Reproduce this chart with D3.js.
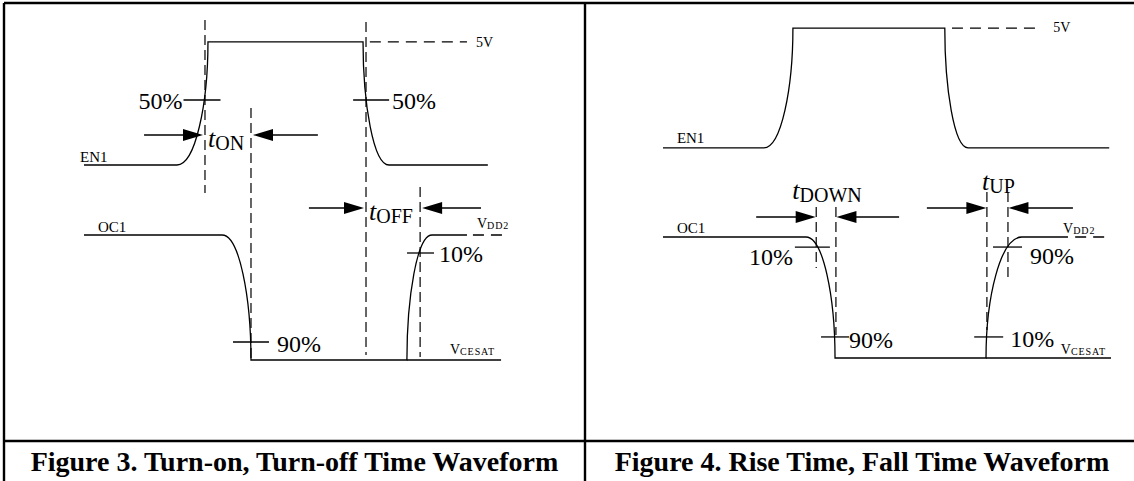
<!DOCTYPE html>
<html>
<head>
<meta charset="utf-8">
<script src="https://cdn.jsdelivr.net/npm/d3@7"></script>
<style>
  html, body { margin: 0; padding: 0; background: #fff; }
  svg { display: block; }
  svg text { font-family: "Liberation Serif", "Times New Roman", serif; }
</style>
</head>
<body>
<svg id="chart" width="1134" height="481"></svg>
<script>
// waveform vertices: [time, level (0 = low, 1 = high), edge shape arriving at this vertex]
const fig3EN1 = [[0, 0], [21.8, 0], [29.1, 1, "late"], [65.5, 1], [71.6, 0, "early"], [94.8, 0]];
const fig3OC1 = [[0, 1], [32.4, 1], [39.2, 0, "late"], [75.8, 0], [81.7, 1, "early"], [89.9, 1]];
const fig4EN1 = [[0, 0], [22.5, 0], [29.0, 1, "late"], [62.9, 1], [68.1, 0, "early"], [99.6, 0]];
const fig4OC1 = [[0, 1], [31.9, 1], [38.4, 0, "late"], [72.1, 0], [80.1, 1, "early"], [90.4, 1]];

// lane levels (low, high) in panel units
const fig3En1Levels = [1.56, 2.545];
const fig3Oc1Levels = [0, 1];
const fig4En1Levels = [1.736, 2.727];
const fig4Oc1Levels = [0, 1];

// reference lines: [lane, level, from, to, dashed]
const fig3Refs = [["en1", 1, 67.1, 89.9, true], ["oc1", 1, 91.3, 99.1, true], ["oc1", 0, 75.8, 97.9, false]];
const fig4Refs = [["en1", 1, 64.5, 84.4, true], ["oc1", 1, 92.0, 98.9, true], ["oc1", 0, 72.1, 100, false]];

// dashed time markers: [time, top, bottom]
const fig3Markers = [[28.4, 2.72, 1.336], [39.2, 2.016, 0], [66.2, 2.704, 0.04], [78.9, 1.384, 0.024]];
const fig4Markers = [[34.2, 1.248, 0.744], [38.6, 1.248, 0.19], [72.3, 1.372, 0.231], [77.0, 1.372, 0.669]];

// timing intervals: [subscript, from, to, arrow level, left arrow start, right arrow end]
const fig3Intervals = [["ON", 28.4, 39.2, 1.8, 14.1, 54.9], ["OFF", 66.2, 78.9, 1.216, 52.8, 93.2]];
const fig4Intervals = [["DOWN", 34.2, 38.6, 1.165, 20.8, 52.7], ["UP", 72.3, 77.0, 1.240, 58.9, 91.5]];

// threshold ticks: [label, lane, fraction of swing, time]
const fig3Thresholds = [["50%", "en1", 0.528, 27.7], ["50%", "en1", 0.528, 67.4], ["90%", "oc1", 0.144, 39.2], ["10%", "oc1", 0.856, 79.0]];
const fig4Thresholds = [["10%", "oc1", 0.917, 33.35], ["90%", "oc1", 0.174, 38.4], ["90%", "oc1", 0.917, 76.9], ["10%", "oc1", 0.174, 72.7]];

const signalNames = ["EN1", "OC1"];
const refNames = [["5V", ""], ["V", "DD2"], ["V", "CESAT"]];
const captions = ["Figure 3. Turn-on, Turn-off Time Waveform", "Figure 4. Rise Time, Fall Time Waveform"];

// ---- layout
const panels = [
  {
    x: d3.scaleLinear().domain([0, 100]).range([84, 510]),
    y: d3.scaleLinear().domain([0, 1]).range([360, 235]),
    en1: fig3EN1, oc1: fig3OC1, levels: { en1: fig3En1Levels, oc1: fig3Oc1Levels },
    refs: fig3Refs, markers: fig3Markers, intervals: fig3Intervals, thresholds: fig3Thresholds,
    tickLayout: [{ len: 37, side: "left", gap: 1, dy: 9 }, { len: 36, side: "right", gap: 3, dy: 9 },
                 { len: 36, side: "right", gap: 8, dy: 10 }, { len: 27, side: "right", gap: 5, dy: 9 }],
    namePos: [[-0.94, 1.584], [3.29, 1.024]],
    refPos: [[92.0, 2.504], [92.25, 1.06], [85.9, 0.048]],
    labelMode: "inline", arrowGap: 2,
    caption: captions[0], captionX: 294.5
  },
  {
    x: d3.scaleLinear().domain([0, 100]).range([663, 1111]),
    y: d3.scaleLinear().domain([0, 1]).range([358, 237]),
    en1: fig4EN1, oc1: fig4OC1, levels: { en1: fig4En1Levels, oc1: fig4Oc1Levels },
    refs: fig4Refs, markers: fig4Markers, intervals: fig4Intervals, thresholds: fig4Thresholds,
    tickLayout: [{ len: 35, side: "left", gap: 2, dy: 18 }, { len: 28, side: "right", gap: 0, dy: 11 },
                 { len: 29, side: "right", gap: 8, dy: 17 }, { len: 29, side: "right", gap: 7, dy: 10 }],
    namePos: [[3.1, 1.777], [3.1, 1.03]],
    refPos: [[87.1, 2.694], [89.3, 1.035], [88.8, 0.033]],
    labelMode: "above", arrowGap: 0.5,
    caption: captions[1], captionX: 862
  }
];

const svg = d3.select("#chart");
const ink = "#000";

// frame
const frame = svg.append("g").attr("stroke", ink).attr("stroke-width", 2.4);
frame.append("line").attr("x1", 4).attr("x2", 1134).attr("y1", 3).attr("y2", 3);
frame.append("line").attr("x1", 4).attr("x2", 4).attr("y1", 3).attr("y2", 481);
frame.append("line").attr("x1", 585).attr("x2", 585).attr("y1", 3).attr("y2", 481);
frame.append("line").attr("x1", 4).attr("x2", 1134).attr("y1", 441).attr("y2", 441);

function wavePath(pts, lv, x, y) {
  const p = d3.path();
  pts.forEach((d, i) => {
    const px = x(d[0]), py = y(lv[d[1]]);
    if (i === 0) { p.moveTo(px, py); return; }
    const prev = pts[i - 1];
    const x0 = x(prev[0]), y0 = y(lv[prev[1]]);
    if (d[2] === "late") p.bezierCurveTo(x0 + 0.6 * (px - x0), y0, px, y0 + 0.5 * (py - y0), px, py);
    else if (d[2] === "early") p.bezierCurveTo(x0, y0 + 0.5 * (py - y0), px - 0.6 * (px - x0), py, px, py);
    else p.lineTo(px, py);
  });
  return p.toString();
}

panels.forEach(P => {
  const g = svg.append("g");
  const { x, y } = P;
  const lvl = (lane, f) => P.levels[lane][0] + f * (P.levels[lane][1] - P.levels[lane][0]);

  // waveforms
  ["en1", "oc1"].forEach(lane => {
    g.append("path")
      .attr("d", wavePath(P[lane], P.levels[lane], x, y))
      .attr("fill", "none").attr("stroke", ink).attr("stroke-width", 1.3);
  });

  // reference levels
  g.selectAll(".ref").data(P.refs).join("line")
    .attr("x1", d => x(d[2])).attr("x2", d => x(d[3]))
    .attr("y1", d => y(lvl(d[0], d[1]))).attr("y2", d => y(lvl(d[0], d[1])))
    .attr("stroke", ink).attr("stroke-width", 1.3)
    .attr("stroke-dasharray", d => d[4] ? "11,7" : null);

  // dashed time markers
  g.selectAll(".marker").data(P.markers).join("line")
    .attr("x1", d => x(d[0])).attr("x2", d => x(d[0]))
    .attr("y1", d => y(d[1])).attr("y2", d => y(d[2]))
    .attr("stroke", ink).attr("stroke-width", 1.2).attr("stroke-dasharray", "10,5");

  // threshold ticks and labels
  P.thresholds.forEach((d, i) => {
    const L = P.tickLayout[i];
    const cx = x(d[3]), cy = y(lvl(d[1], d[2]));
    g.append("line").attr("x1", cx - L.len / 2).attr("x2", cx + L.len / 2)
      .attr("y1", cy).attr("y2", cy).attr("stroke", ink).attr("stroke-width", 1.3);
    g.append("text")
      .attr("x", L.side === "left" ? cx - L.len / 2 - L.gap : cx + L.len / 2 + L.gap)
      .attr("y", cy + L.dy)
      .attr("text-anchor", L.side === "left" ? "end" : "start")
      .attr("font-family", "Liberation Serif")
      .attr("font-size", 24).attr("fill", ink).text(d[0]);
  });

  // interval arrows
  const head = 20, half = 6;
  P.intervals.forEach(d => {
    const ay = y(d[3]);
    const tipL = x(d[1]) - P.arrowGap, tipR = x(d[2]) + P.arrowGap;
    g.append("line").attr("x1", x(d[4])).attr("x2", tipL - head + 1).attr("y1", ay).attr("y2", ay)
      .attr("stroke", ink).attr("stroke-width", 1.4);
    g.append("path").attr("d", `M${tipL},${ay}L${tipL - head},${ay - half}L${tipL - head},${ay + half}Z`).attr("fill", ink);
    g.append("line").attr("x1", tipR + head - 1).attr("x2", x(d[5])).attr("y1", ay).attr("y2", ay)
      .attr("stroke", ink).attr("stroke-width", 1.4);
    g.append("path").attr("d", `M${tipR},${ay}L${tipR + head},${ay - half}L${tipR + head},${ay + half}Z`).attr("fill", ink);

    const t = g.append("text").attr("fill", ink).attr("font-family", "Liberation Serif");
    if (P.labelMode === "inline") {
      t.attr("x", x(d[1]) + 3).attr("y", ay + 12).attr("text-anchor", "start");
    } else {
      t.attr("x", (x(d[1]) + x(d[2])) / 2 + 1).attr("y", ay - 18).attr("text-anchor", "middle");
    }
    t.append("tspan").attr("font-style", "italic").attr("font-size", 26).text("t");
    t.append("tspan").attr("font-size", 20).attr("dy", 3).text(d[0]);
  });

  // signal names
  signalNames.forEach((name, i) => {
    g.append("text").attr("x", x(P.namePos[i][0])).attr("y", y(P.namePos[i][1]))
      .attr("font-size", 15).attr("fill", ink).text(name);
  });

  // reference names
  refNames.forEach((r, i) => {
    const t = g.append("text").attr("x", x(P.refPos[i][0])).attr("y", y(P.refPos[i][1]))
      .attr("font-size", 14).attr("fill", ink);
    t.append("tspan").text(r[0]);
    if (r[1]) t.append("tspan").attr("font-size", 10).attr("letter-spacing", 0.9).attr("dy", 1).text(r[1]);
  });

  // caption
  svg.append("text").attr("x", P.captionX).attr("y", 471).attr("text-anchor", "middle")
    .attr("font-size", 28).attr("font-weight", "bold").attr("fill", ink).text(P.caption);
});
</script>
</body>
</html>
